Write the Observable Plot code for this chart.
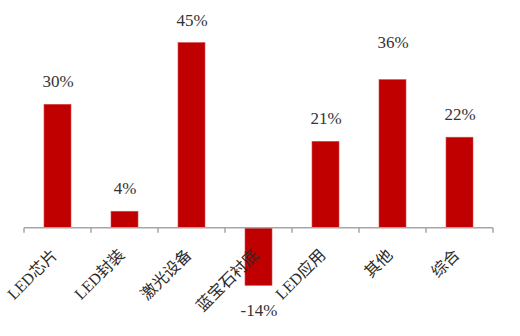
<!DOCTYPE html>
<html>
<head>
<meta charset="utf-8">
<script src="https://cdn.jsdelivr.net/npm/d3@7"></script>
<script src="https://cdn.jsdelivr.net/npm/@observablehq/plot@0.6"></script>
<style>
  html, body { margin: 0; padding: 0; background: #fff; }
  #chart svg { display: block; }
</style>
</head>
<body>
<div id="chart"></div>
<script>
const categories = ["LED芯片", "LED封装", "激光设备", "蓝宝石衬底", "LED应用", "其他", "综合"];
const values = [30, 4, 45, -14, 21, 36, 22];
const data = categories.map((c, i) => ({category: c, value: values[i], label: values[i] + "%"}));

const serif = "'Liberation Serif', 'Times New Roman', 'Noto Sans CJK SC', serif";

// axis line with tick marks at band boundaries, computed from the scales
function bandTicks(index, scales, values, dims) {
  const x = scales.x, y = scales.y;
  const step = x.step();
  const bw = x.bandwidth();
  const off = (step - bw) / 2;
  const edges = categories.map(c => x(c) - off);
  edges.push(x(categories[categories.length - 1]) + bw + off);
  const y0 = y(0);
  const g = d3.create("svg:g").attr("stroke", "#a6a6a6").attr("stroke-width", 1.5);
  g.append("line").attr("x1", edges[0]).attr("x2", edges[edges.length - 1]).attr("y1", y0).attr("y2", y0);
  for (const e of edges) {
    g.append("line").attr("x1", e).attr("x2", e).attr("y1", y0).attr("y2", y0 + 5);
  }
  return g.node();
}

const raised = new Set(["其他"]); // label placed higher in the reference

const chart = Plot.plot({
  width: 520,
  height: 336,
  marginLeft: 23,
  marginRight: 27,
  marginTop: 22,
  marginBottom: 26,
  x: {domain: categories, paddingInner: 0.6, paddingOuter: 0.3, axis: null},
  y: {domain: [-20, 50], axis: null},
  style: {background: "#fff"},
  marks: [
    Plot.barY(data, {x: "category", y: "value", fill: "#c00000", stroke: "#d94a4a", strokeWidth: 0.6}),
    bandTicks,
    Plot.text(data.filter(d => d.value >= 0 && !raised.has(d.category)), {x: "category", y: "value", text: "label", dy: -23,
      fontSize: 17, fontFamily: serif, fill: "#333"}),
    Plot.text(data.filter(d => raised.has(d.category)), {x: "category", y: "value", text: "label", dy: -38,
      fontSize: 17, fontFamily: serif, fill: "#333"}),
    Plot.text(data.filter(d => d.value < 0), {x: "category", y: "value", text: "label", dy: 25,
      fontSize: 17, fontFamily: serif, fill: "#333"}),
    Plot.text(data, {x: "category", y: () => 0, text: "category", dy: 24, dx: -3, rotate: -45,
      textAnchor: "end", fontSize: 16, fontFamily: serif, fill: "#2a2a2a"})
  ]
});
document.getElementById("chart").appendChild(chart);
</script>
</body>
</html>
